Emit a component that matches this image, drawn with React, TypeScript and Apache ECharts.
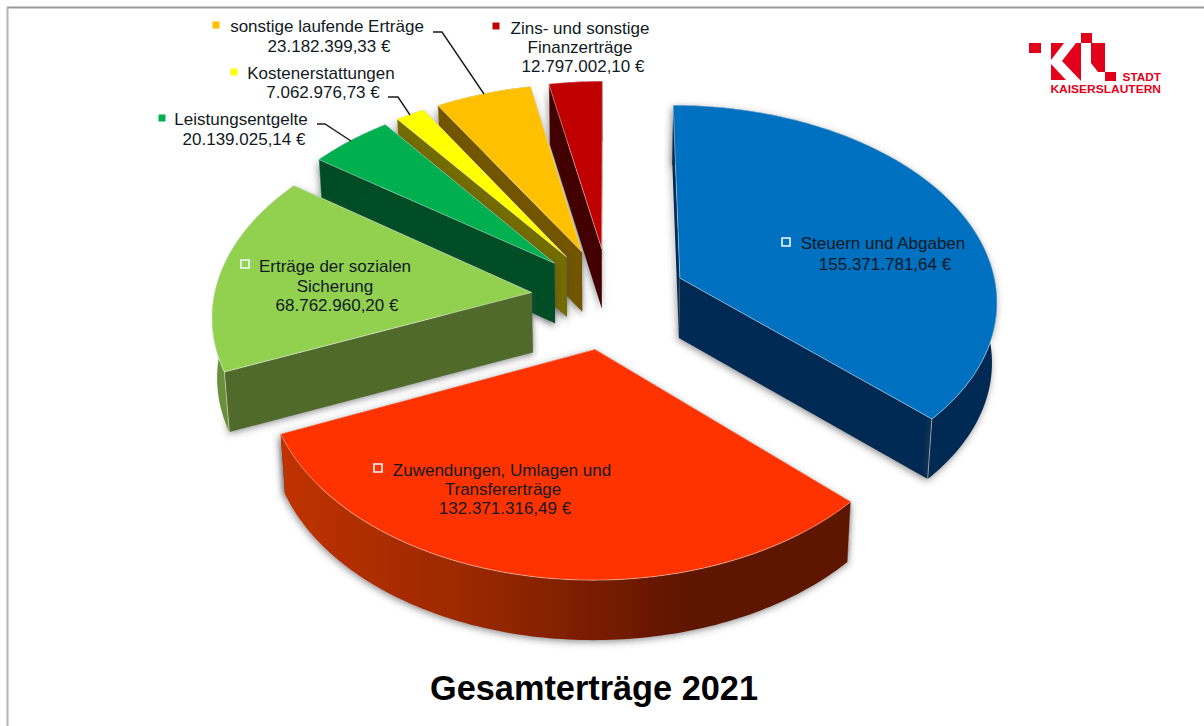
import React, { useEffect, useRef } from "react";
import * as echarts from "echarts";

// Revenue categories, clockwise from twelve o'clock
const categories = [
  "Steuern und Abgaben",
  "Zuwendungen, Umlagen und Transfererträge",
  "Erträge der sozialen Sicherung",
  "Leistungsentgelte",
  "Kostenerstattungen",
  "sonstige laufende Erträge",
  "Zins- und sonstige Finanzerträge",
];
const amounts = [
  155371781.64, 132371316.49, 68762960.2, 20139025.14, 7062976.73, 23182399.33, 12797002.1,
];
const amountLabels = [
  "155.371.781,64 €",
  "132.371.316,49 €",
  "68.762.960,20 €",
  "20.139.025,14 €",
  "7.062.976,73 €",
  "23.182.399,33 €",
  "12.797.002,10 €",
];
const topColors = ["#0070c0", "#ff3300", "#92d050", "#00b050", "#ffff00", "#ffc000", "#c00000"];
const wallColors = ["#002b52", "#5e1400", "#4f6b2c", "#004d25", "#736c00", "#735500", "#430000"];
const rimColors = ["#002b52", "#5e1400", "#6a8f3c", "#004d25", "#736c00", "#735500", "#430000"];
// Painter's order: far wedges first, nearest wedge last
const paintOrder = [6, 5, 4, 3, 2, 0, 1];

const FONT = '"Liberation Sans", Arial, sans-serif';
const TEXT = "#111a22";

// Oblique view of the exploded disc
const CX = 609;
const CY = 298;
const RADIUS = 300;
const SCALE_X = 1.06;
const SCALE_Y = 0.65;
const PERSPECTIVE = 0.00035;
const EXPLODE_X = 73.6;
const EXPLODE_Y = 78;
const DEPTH = 60;
const BOTTOM_SHRINK = 0.987;

const project = (x: number, y: number): number[] => {
  const w = 1 + PERSPECTIVE * y;
  return [CX + (x * SCALE_X) / w, CY - (y * SCALE_Y) / w];
};
const lower = (p: number[]): number[] => [CX + (p[0] - CX) * BOTTOM_SHRINK, p[1] + DEPTH];

const total = amounts.reduce((a, b) => a + b, 0);
const startAngles = amounts.map(
  (_, i) => (amounts.slice(0, i).reduce((a, b) => a + b, 0) / total) * 2 * Math.PI
);

const renderWedge = (_: unknown, api: any) => {
  const index = api.value(0) as number;
  const sweep = (api.value(1) / total) * 2 * Math.PI;
  const start = startAngles[index];
  const mid = start + sweep / 2;
  const ox = Math.sin(mid) * EXPLODE_X;
  const oy = Math.cos(mid) * EXPLODE_Y;

  const apex = project(ox, oy);
  const rim: number[][] = [];
  const steps = Math.max(4, Math.ceil((sweep * 180) / Math.PI));
  for (let s = 0; s <= steps; s++) {
    const t = start + (sweep * s) / steps;
    rim.push(project(ox + Math.sin(t) * RADIUS, oy + Math.cos(t) * RADIUS));
  }
  const rimLow = rim.map(lower);
  const first = rim[0];
  const last = rim[rim.length - 1];
  const xs = rim.map((p) => p[0]);

  // The cut face pointing away from the viewer is painted before the nearer one
  const back = first[1] < last[1] ? first : last;
  const near = back === first ? last : first;

  const wallShadow = {
    shadowBlur: 7,
    shadowColor: "rgba(70,70,70,0.6)",
    shadowOffsetX: -1,
    shadowOffsetY: 2,
  };
  // Only the two big wedges show their outer wall; elsewhere a shadow would fall on the cut face
  const rimShadow = index < 2 ? wallShadow : {};
  const rimFill =
    index === 1
      ? new echarts.graphic.LinearGradient(
          Math.min(...xs),
          0,
          Math.max(...xs),
          0,
          [
            { offset: 0, color: "#bf3200" },
            { offset: 0.35, color: "#982800" },
            { offset: 0.72, color: "#5e1400" },
            { offset: 1, color: "#5e1400" },
          ],
          true
        )
      : rimColors[index];

  const edge = "rgba(255,255,255,0.45)";
  return {
    type: "group",
    children: [
      {
        type: "polygon",
        shape: { points: [apex, back, lower(back), lower(apex)] },
        style: { fill: wallColors[index], ...wallShadow },
      },
      {
        type: "polygon",
        shape: { points: [apex, near, lower(near), lower(apex)] },
        style: { fill: wallColors[index], ...wallShadow },
      },
      {
        type: "polygon",
        shape: { points: [...rim, ...rimLow.slice().reverse()] },
        style: { fill: rimFill, ...rimShadow },
      },
      {
        type: "line",
        shape: { x1: near[0], y1: near[1], x2: lower(near)[0], y2: lower(near)[1] },
        style: { stroke: edge, lineWidth: 1 },
      },
      {
        type: "polygon",
        shape: { points: [apex, ...rim] },
        style: { fill: topColors[index], stroke: edge, lineWidth: 1 },
      },
    ],
  };
};

const textLine = (text: string, x: number, y: number) => ({
  type: "text",
  z: 20,
  x,
  y,
  style: {
    text,
    x: 0,
    y: 0,
    fill: TEXT,
    font: `17px ${FONT}`,
    align: "center",
    verticalAlign: "middle",
  },
});

const outlinedKey = (x: number, y: number, fill: string) => ({
  type: "rect",
  z: 20,
  shape: { x: x - 4, y: y - 4, width: 8, height: 8 },
  style: { fill, stroke: "#f4f8ff", lineWidth: 1.6 },
});
const plainKey = (x: number, y: number, fill: string) => ({
  type: "rect",
  z: 20,
  shape: { x: x - 3.5, y: y - 3.5, width: 7, height: 7 },
  style: { fill },
});
const leader = (points: number[][]) => ({
  type: "polyline",
  z: 15,
  shape: { points },
  style: { stroke: "#1a1a1a", lineWidth: 1.4, fill: "none" },
});

const labelGraphics = [
  outlinedKey(786, 242, topColors[0]),
  textLine("Steuern und Abgaben", 883, 243),
  textLine(amountLabels[0], 885, 264),

  outlinedKey(378, 468, topColors[1]),
  textLine("Zuwendungen, Umlagen und", 502, 470),
  textLine("Transfererträge", 503, 489),
  textLine(amountLabels[1], 505, 508),

  outlinedKey(245, 264, topColors[2]),
  textLine("Erträge der sozialen", 335, 266),
  textLine("Sicherung", 335, 286),
  textLine(amountLabels[2], 337, 305),

  plainKey(162, 118, topColors[3]),
  textLine(categories[3], 241, 119),
  textLine(amountLabels[3], 244, 139),

  plainKey(234, 72, topColors[4]),
  textLine(categories[4], 321, 73),
  textLine(amountLabels[4], 323, 92),

  plainKey(216, 25, topColors[5]),
  textLine(categories[5], 327, 26),
  textLine(amountLabels[5], 329, 46),

  plainKey(496, 26, topColors[6]),
  textLine("Zins- und sonstige", 580, 28),
  textLine("Finanzerträge", 580, 47),
  textLine(amountLabels[6], 583, 66),

  leader([[433, 32], [442, 32], [484, 94]]),
  leader([[388, 97], [398, 97], [410, 115]]),
  leader([[317, 124], [325, 124], [351, 141]]),
];

const RED = "#e2001a";
const logoShape = (points: number[][]) => ({
  type: "polygon",
  z: 20,
  shape: { points },
  style: { fill: RED },
});
const logoGraphics = [
  logoShape([[1029, 43], [1041, 43], [1041, 53], [1029, 53]]),
  logoShape([[1081, 33], [1092, 33], [1092, 43], [1081, 43]]),
  logoShape([[1051, 43], [1064, 43], [1051, 60]]),
  logoShape([[1051, 64], [1066, 80], [1051, 80]]),
  logoShape([[1076, 43], [1081, 43], [1081, 81], [1062, 61]]),
  logoShape([[1091, 43], [1105, 43], [1105, 72], [1098, 72], [1091, 63]]),
  logoShape([[1105, 72], [1116, 72], [1116, 81], [1105, 81]]),
  {
    type: "text",
    z: 20,
    x: 1161,
    y: 77,
    scaleX: 1.18,
    style: {
      text: "STADT",
      x: 0,
      y: 0,
      fill: RED,
      font: `bold 10px ${FONT}`,
      align: "right",
      verticalAlign: "middle",
    },
  },
  {
    type: "text",
    z: 20,
    x: 1161,
    y: 89,
    scaleX: 1.2,
    style: {
      text: "KAISERSLAUTERN",
      x: 0,
      y: 0,
      fill: RED,
      font: `bold 10px ${FONT}`,
      align: "right",
      verticalAlign: "middle",
    },
  },
];

const frameGraphics = [
  {
    type: "line",
    z: 1,
    shape: { x1: 7, y1: 7.5, x2: 1204, y2: 7.5 },
    style: { stroke: "#9a9a9a", lineWidth: 2 },
  },
  {
    type: "line",
    z: 1,
    shape: { x1: 7.5, y1: 7, x2: 7.5, y2: 726 },
    style: { stroke: "#b4b4b4", lineWidth: 2 },
  },
];

export default function App() {
  const ref = useRef<HTMLDivElement>(null);

  useEffect(() => {
    const chart = echarts.init(ref.current!, undefined, { renderer: "svg" });
    chart.setOption({
      animation: false,
      backgroundColor: "#ffffff",
      title: {
        text: "Gesamterträge 2021",
        left: 589,
        top: 666,
        textAlign: "center",
        textStyle: { fontFamily: FONT, fontSize: 34.3, fontWeight: "bold", color: "#000000" },
      },
      graphic: { elements: [...frameGraphics, ...logoGraphics, ...labelGraphics] },
      series: [
        {
          type: "custom",
          coordinateSystem: "none",
          silent: true,
          renderItem: renderWedge,
          data: paintOrder.map((i) => ({ name: categories[i], value: [i, amounts[i]] })),
        },
      ],
    });
    return () => chart.dispose();
  }, []);

  return (
    <div
      ref={ref}
      style={{ position: "absolute", left: 0, top: 0, width: 1204, height: 726, background: "#fff" }}
    />
  );
}
